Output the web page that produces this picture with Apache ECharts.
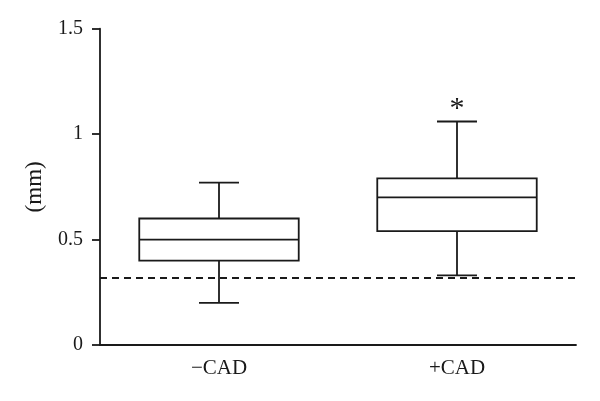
<!DOCTYPE html>
<html>
<head>
<meta charset="utf-8">
<script src="https://cdn.jsdelivr.net/npm/echarts@6/dist/echarts.min.js"></script>
<style>html,body{margin:0;padding:0;background:#fff}#c{width:600px;height:401px}</style>
</head>
<body>
<div id="c"></div>
<script>
var categories = ['\u2212CAD', '+CAD'];
var mins = [0.20, 0.33];
var q1s = [0.40, 0.54];
var medians = [0.50, 0.70];
var q3s = [0.60, 0.79];
var maxs = [0.77, 1.06];
var marks = ['', '*'];
var refLine = 0.32;
var yTicks = [0, 0.5, 1, 1.5];

var FONT = '"Liberation Serif", "DejaVu Serif", serif';
var INK = '#1a1a1a';
var LW = 1.8;

var boxData = categories.map(function (c, i) {
  return [i, mins[i], q1s[i], medians[i], q3s[i], maxs[i]];
});

var chart = echarts.init(document.getElementById('c'), null, {renderer: 'canvas'});
chart.setOption({
  animation: false,
  backgroundColor: '#fff',
  grid: {left: 100, right: 24, top: 28.7, bottom: 56, containLabel: false},
  xAxis: {
    type: 'category',
    data: categories,
    boundaryGap: true,
    axisLine: {lineStyle: {color: INK, width: LW}},
    axisTick: {alignWithLabel: true, length: 6, lineStyle: {color: INK, width: LW}},
    axisLabel: {color: INK, fontFamily: FONT, fontSize: 21, margin: 13}
  },
  yAxis: {
    type: 'value',
    min: 0, max: 1.5, interval: 0.5,
    name: '(mm)',
    nameLocation: 'middle',
    nameGap: 54,
    nameRotate: 90,
    nameTextStyle: {color: INK, fontFamily: FONT, fontSize: 23},
    splitLine: {show: false},
    axisLine: {show: true, lineStyle: {color: INK, width: LW}},
    axisTick: {show: true, length: 8, lineStyle: {color: INK, width: LW}},
    axisLabel: {
      color: INK, fontFamily: FONT, fontSize: 20, margin: 17,
      formatter: function (v) { return yTicks.indexOf(v) >= 0 ? String(v) : ''; }
    }
  },
  series: [{
    type: 'custom',
    data: boxData,
    encode: {x: 0, y: [1, 2, 3, 4, 5]},
    renderItem: function (params, api) {
      var idx = api.value(0);
      var band = api.size([1, 0])[0];
      var bw = band * 0.67;
      var cw = band * 0.168;
      var pMin = api.coord([idx, api.value(1)]);
      var pQ1 = api.coord([idx, api.value(2)]);
      var pMed = api.coord([idx, api.value(3)]);
      var pQ3 = api.coord([idx, api.value(4)]);
      var pMax = api.coord([idx, api.value(5)]);
      var cx = pMed[0];
      var st = {stroke: INK, lineWidth: LW, fill: null};
      var children = [
        {type: 'rect', shape: {x: cx - bw / 2, y: pQ3[1], width: bw, height: pQ1[1] - pQ3[1]}, style: {stroke: INK, lineWidth: LW, fill: 'none'}},
        {type: 'line', shape: {x1: cx - bw / 2, y1: pMed[1], x2: cx + bw / 2, y2: pMed[1]}, style: st},
        {type: 'line', shape: {x1: cx, y1: pQ3[1], x2: cx, y2: pMax[1]}, style: st},
        {type: 'line', shape: {x1: cx, y1: pQ1[1], x2: cx, y2: pMin[1]}, style: st},
        {type: 'line', shape: {x1: cx - cw / 2, y1: pMax[1], x2: cx + cw / 2, y2: pMax[1]}, style: st},
        {type: 'line', shape: {x1: cx - cw / 2, y1: pMin[1], x2: cx + cw / 2, y2: pMin[1]}, style: st}
      ];
      var m = marks[params.dataIndex];
      if (m) {
        children.push({type: 'text', x: cx, y: pMax[1] + 3, style: {text: m, fill: INK, font: '30px ' + FONT, align: 'center', verticalAlign: 'bottom'}});
      }
      return {type: 'group', children: children};
    },
    markLine: {
      silent: true,
      symbol: ['none', 'none'],
      label: {show: false},
      lineStyle: {color: INK, type: [7, 5], width: LW},
      data: [{yAxis: refLine}]
    },
    z: 3
  }]
});
</script>
</body>
</html>
